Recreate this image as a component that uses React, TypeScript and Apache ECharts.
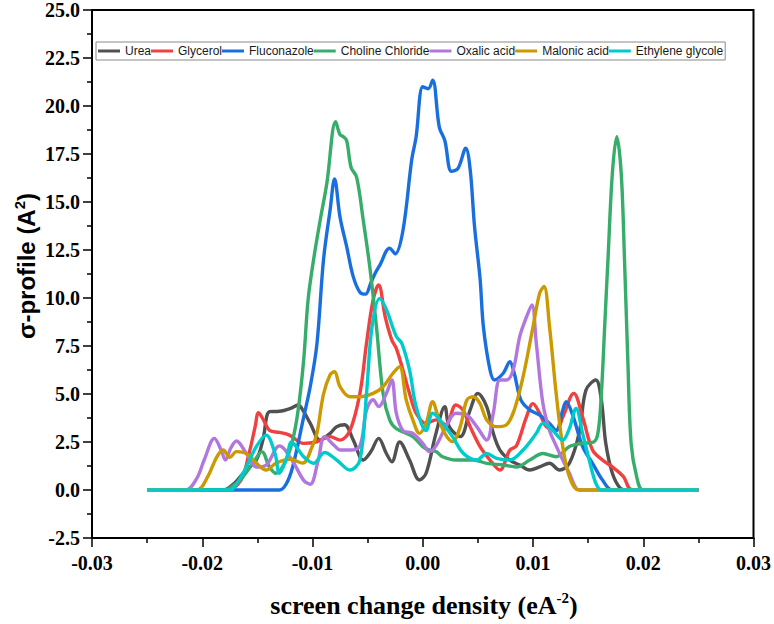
import React, { useEffect, useRef } from "react";
import * as echarts from "echarts";

// ---- data (σ in e/Å², σ-profile in Å²) ----
const seriesNames = [
  "Urea",
  "Glycerol",
  "Fluconazole",
  "Choline Chloride",
  "Oxalic acid",
  "Malonic acid",
  "Ethylene glycole",
];
const seriesColors = ["#515151", "#F14040", "#1A6FDF", "#37AD6B", "#B177DE", "#CC9900", "#00CBCC"];

const xTicks = { min: -0.03, max: 0.03, interval: 0.01 };
const yTicks = { min: -2.5, max: 25, interval: 2.5 };

const urea: [number, number][] = [
  [-0.025, 0], [-0.0181, 0], [-0.017, 0.4], [-0.0163, 0.87], [-0.0151, 1.56], [-0.0145, 2.6],
  [-0.0139, 4.08], [-0.013, 4.1], [-0.012, 4.25], [-0.0113, 4.43], [-0.0108, 4.08], [-0.0102, 3.47],
  [-0.0093, 2.6], [-0.0084, 2.95], [-0.0078, 3.3], [-0.0071, 3.4], [-0.0063, 2.6], [-0.0054, 1.56],
  [-0.0047, 2.0], [-0.004, 2.69], [-0.0033, 1.9], [-0.0028, 1.47], [-0.0021, 2.5], [-0.0012, 1.56],
  [-0.0003, 0.52], [0.0003, 0.87], [0.0012, 2.95], [0.002, 4.34], [0.0024, 3.3], [0.0034, 2.78],
  [0.0043, 4.17], [0.005, 5.03], [0.0058, 4.34], [0.0064, 2.95], [0.007, 2.08], [0.0079, 1.56],
  [0.0088, 1.3], [0.0097, 1.04], [0.0106, 1.2], [0.0115, 1.39], [0.0124, 1.04], [0.0133, 1.39],
  [0.0142, 3.0], [0.0148, 5.2], [0.0157, 5.73], [0.0162, 4.69], [0.0166, 2.43], [0.0172, 0.87],
  [0.0179, 0.1], [0.0185, 0], [0.025, 0],
];

const glycerol: [number, number][] = [
  [-0.025, 0], [-0.0178, 0], [-0.0165, 0.5], [-0.0158, 1.8], [-0.0152, 3.3], [-0.0149, 4.03],
  [-0.0144, 3.6], [-0.0139, 3.1], [-0.013, 3.0], [-0.0121, 2.86], [-0.0108, 2.43], [-0.0097, 2.5],
  [-0.0084, 2.78], [-0.0075, 2.6], [-0.0066, 3.1], [-0.0057, 5.03], [-0.0051, 7.64], [-0.0045, 9.9],
  [-0.004, 10.68], [-0.0034, 9.0], [-0.0028, 7.8], [-0.0024, 7.38], [-0.0018, 6.25], [-0.0012, 5.03],
  [-0.0006, 4.0], [0.0003, 3.47], [0.0012, 3.65], [0.0021, 3.4], [0.003, 4.43], [0.0036, 4.2],
  [0.0043, 3.3], [0.0052, 2.26], [0.0061, 1.56], [0.007, 1.04], [0.0079, 2.08], [0.0085, 2.3],
  [0.0094, 3.8], [0.01, 4.5], [0.0106, 4.0], [0.0112, 3.3], [0.0121, 3.1], [0.0127, 3.8],
  [0.0137, 5.03], [0.0145, 3.8], [0.0154, 2.08], [0.0163, 1.56], [0.0172, 1.2], [0.0182, 0.7],
  [0.019, 0], [0.025, 0],
];

const fluconazole: [number, number][] = [
  [-0.025, 0], [-0.013, 0], [-0.0124, 0.3], [-0.0118, 1.2], [-0.0108, 3.8], [-0.0102, 5.4],
  [-0.0096, 7.6], [-0.009, 12.0], [-0.0084, 14.6], [-0.008, 16.2], [-0.0075, 14.2], [-0.0069, 12.67],
  [-0.0063, 11.1], [-0.0057, 10.3], [-0.0052, 10.2], [-0.0047, 10.8], [-0.0043, 11.3], [-0.0039, 11.7],
  [-0.003, 12.6], [-0.0025, 12.3], [-0.0018, 13.5], [-0.001, 17.2], [-0.0006, 18.4], [0.0, 21.0],
  [0.0005, 20.9], [0.0009, 21.35], [0.0015, 18.9], [0.002, 18.2], [0.0026, 16.6], [0.0032, 16.75],
  [0.0039, 17.8], [0.0043, 16.7], [0.0047, 13.7], [0.0052, 11.0], [0.0055, 8.5], [0.0061, 6.25],
  [0.0065, 5.73], [0.0073, 6.08], [0.0079, 6.68], [0.0083, 6.08], [0.0089, 4.69], [0.0097, 4.17],
  [0.0106, 3.9], [0.0115, 3.47], [0.0121, 3.1], [0.0127, 4.17], [0.013, 4.6], [0.0136, 3.9],
  [0.0145, 2.26], [0.0154, 1.39], [0.0163, 0.52], [0.0172, 0], [0.025, 0],
];

const cholineChloride: [number, number][] = [
  [-0.025, 0], [-0.018, 0], [-0.017, 0.3], [-0.0163, 0.7], [-0.0154, 1.39], [-0.0146, 2.0],
  [-0.0139, 1.2], [-0.0133, 0.87], [-0.0124, 1.56], [-0.0118, 2.6], [-0.0113, 4.17], [-0.0108, 6.77],
  [-0.0104, 9.9], [-0.0099, 12.0], [-0.0093, 14.06], [-0.0087, 15.97], [-0.0079, 19.18], [-0.0075, 18.5],
  [-0.0072, 18.4], [-0.0069, 18.2], [-0.0065, 16.8], [-0.006, 16.3], [-0.0054, 14.06], [-0.0048, 11.6],
  [-0.0042, 8.5], [-0.0036, 5.03], [-0.003, 3.65], [-0.0024, 3.2], [-0.0009, 2.78], [0.0, 2.26],
  [0.0006, 2.08], [0.0012, 2.0], [0.0018, 1.73], [0.003, 1.56], [0.0046, 1.56], [0.0058, 1.39],
  [0.0073, 1.3], [0.0085, 1.2], [0.0097, 1.56], [0.0109, 1.9], [0.0121, 1.73], [0.0133, 2.26],
  [0.0145, 2.43], [0.0155, 2.5], [0.0159, 3.0], [0.0162, 5.0], [0.0165, 8.5], [0.0168, 12.0],
  [0.0172, 16.5], [0.0176, 18.4], [0.018, 16.5], [0.0183, 12.0], [0.0186, 6.77], [0.0189, 2.43],
  [0.0194, 0.7], [0.02, 0], [0.025, 0],
];

const oxalicAcid: [number, number][] = [
  [-0.025, 0], [-0.0215, 0], [-0.0205, 0.6], [-0.0198, 1.6], [-0.0189, 2.69], [-0.0183, 2.1],
  [-0.0179, 1.56], [-0.0174, 2.2], [-0.0169, 2.55], [-0.016, 1.9], [-0.0151, 1.2], [-0.0142, 1.3],
  [-0.013, 2.3], [-0.0118, 1.5], [-0.0108, 0.5], [-0.0102, 0.3], [-0.0095, 1.5], [-0.0089, 2.78],
  [-0.008, 2.3], [-0.0075, 2.08], [-0.0066, 2.08], [-0.0057, 2.3], [-0.0051, 4.17], [-0.0045, 4.7],
  [-0.004, 4.34], [-0.0033, 5.03], [-0.0028, 5.73], [-0.0024, 4.0], [-0.0018, 3.1], [-0.0009, 2.95],
  [0.0, 2.43], [0.0006, 2.0], [0.0012, 2.3], [0.0021, 3.3], [0.003, 4.0], [0.004, 3.9],
  [0.0049, 3.3], [0.0058, 2.6], [0.0064, 4.0], [0.007, 5.73], [0.0076, 5.73], [0.0082, 6.25],
  [0.0088, 8.0], [0.0094, 9.0], [0.0099, 9.64], [0.0103, 7.64], [0.0109, 4.5], [0.0115, 3.1],
  [0.0121, 2.3], [0.0127, 1.56], [0.0133, 0.87], [0.0139, 0.1], [0.0143, 0], [0.025, 0],
];

const malonicAcid: [number, number][] = [
  [-0.025, 0], [-0.0205, 0], [-0.0195, 0.7], [-0.0187, 1.7], [-0.0181, 2.08], [-0.0175, 1.7],
  [-0.0169, 2.0], [-0.016, 1.9], [-0.0151, 1.4], [-0.0142, 1.04], [-0.0133, 1.4], [-0.012, 1.6],
  [-0.0109, 1.4], [-0.01, 2.3], [-0.0096, 2.95], [-0.009, 5.0], [-0.0084, 6.0], [-0.008, 6.16],
  [-0.0075, 5.38], [-0.0066, 4.86], [-0.0057, 4.86], [-0.0045, 5.03], [-0.0036, 5.38], [-0.0027, 6.08],
  [-0.0021, 6.42], [-0.0015, 4.69], [-0.0009, 3.65], [-0.0003, 2.95], [0.0003, 3.47], [0.0009, 4.6],
  [0.0014, 3.8], [0.002, 2.95], [0.0027, 2.52], [0.0034, 3.3], [0.004, 4.69], [0.0046, 4.86],
  [0.0052, 4.5], [0.0058, 3.65], [0.0067, 3.3], [0.0076, 3.4], [0.0083, 4.17], [0.0091, 5.9],
  [0.01, 8.5], [0.0106, 10.24], [0.011, 10.6], [0.0115, 8.5], [0.0121, 5.03], [0.0127, 2.26],
  [0.0133, 0.7], [0.0142, 0], [0.025, 0],
];

const ethyleneGlycol: [number, number][] = [
  [-0.025, 0], [-0.0175, 0], [-0.0168, 0.4], [-0.016, 1.2], [-0.0151, 2.26], [-0.0142, 2.86],
  [-0.0134, 1.9], [-0.013, 0.87], [-0.0124, 1.56], [-0.0119, 2.5], [-0.0114, 2.2], [-0.0108, 1.73],
  [-0.0099, 1.39], [-0.0089, 1.95], [-0.0078, 1.56], [-0.0066, 1.04], [-0.0057, 1.56], [-0.0051, 5.03],
  [-0.0046, 8.5], [-0.0039, 9.98], [-0.0033, 9.4], [-0.0024, 8.0], [-0.0019, 7.64], [-0.0012, 6.25],
  [-0.0006, 4.34], [0.0003, 3.1], [0.0009, 4.0], [0.0018, 3.47], [0.0027, 2.78], [0.0037, 1.9],
  [0.0049, 1.56], [0.0058, 1.9], [0.0067, 1.65], [0.0079, 1.56], [0.0091, 2.08], [0.0103, 2.95],
  [0.0109, 3.47], [0.0118, 3.1], [0.0127, 2.6], [0.0133, 3.2], [0.0139, 4.25], [0.0145, 2.95],
  [0.0151, 1.56], [0.0157, 0.35], [0.0162, 0], [0.025, 0],
];

const seriesData = [urea, glycerol, fluconazole, cholineChloride, oxalicAcid, malonicAcid, ethyleneGlycol];

const SERIF = "'Liberation Serif', 'Times New Roman', serif";
const SANS = "'Liberation Sans', Arial, sans-serif";

export default function App() {
  const ref = useRef<HTMLDivElement>(null);

  useEffect(() => {
    if (!ref.current) return;
    const chart = echarts.init(ref.current, undefined, { renderer: "svg" });

    const axisLabelStyle = {
      fontFamily: SERIF,
      fontWeight: "bold" as const,
      fontSize: 20,
      color: "#000",
    };

    chart.setOption({
      animation: false,
      backgroundColor: "#fff",
      grid: {
        left: 92,
        right: 20,
        top: 10,
        bottom: 86,
        show: true,
        borderColor: "#000",
        borderWidth: 2,
        backgroundColor: "transparent",
      },
      legend: {
        data: seriesNames,
        left: 96,
        top: 42,
        orient: "horizontal",
        icon: "rect",
        itemWidth: 22,
        itemHeight: 3,
        itemGap: 0,
        padding: [3, 2, 3, 2],
        borderColor: "#8a8a8a",
        borderWidth: 1,
        textStyle: { fontFamily: SANS, fontSize: 12, color: "#1a1a1a" },
      },
      xAxis: {
        type: "value",
        min: xTicks.min,
        max: xTicks.max,
        interval: xTicks.interval,
        axisLine: { show: true, onZero: false, lineStyle: { color: "#000", width: 2 } },
        axisTick: { show: true, length: 9, lineStyle: { color: "#000", width: 1.5 } },
        minorTick: { show: true, splitNumber: 2, length: 5, lineStyle: { color: "#000", width: 1.5 } },
        splitLine: { show: false },
        axisLabel: {
          ...axisLabelStyle,
          margin: 15,
          formatter: (v: number) => (Math.abs(v) < 1e-9 ? "0.00" : v.toFixed(2)),
        },
      },
      yAxis: {
        type: "value",
        min: yTicks.min,
        max: yTicks.max,
        interval: yTicks.interval,
        axisLine: { show: true, onZero: false, lineStyle: { color: "#000", width: 2 } },
        axisTick: { show: true, length: 9, lineStyle: { color: "#000", width: 1.5 } },
        minorTick: { show: true, splitNumber: 2, length: 5, lineStyle: { color: "#000", width: 1.5 } },
        splitLine: { show: false },
        axisLabel: {
          ...axisLabelStyle,
          margin: 12,
          formatter: (v: number) => (Math.abs(v) < 1e-9 ? "0.0" : v.toFixed(1)),
        },
      },
      graphic: [
        {
          type: "text",
          x: 424,
          y: 605,
          style: {
            text: "screen change density (eA{sup|-2})",
            fontFamily: SERIF,
            fontWeight: "bold",
            fontSize: 26,
            fill: "#000",
            align: "center",
            verticalAlign: "middle",
            rich: {
              sup: {
                fontFamily: SERIF,
                fontWeight: "bold",
                fontSize: 15,
                fill: "#000",
                padding: [0, 0, 14, 0],
              },
            },
          },
        },
        {
          type: "text",
          x: 26,
          y: 266,
          rotation: Math.PI / 2,
          style: {
            text: "σ-profile (A{sup|2})",
            fontFamily: SANS,
            fontWeight: "bold",
            fontSize: 24,
            fill: "#000",
            align: "center",
            verticalAlign: "middle",
            rich: {
              sup: {
                fontFamily: SANS,
                fontWeight: "bold",
                fontSize: 15,
                fill: "#000",
                padding: [0, 0, 14, 0],
              },
            },
          },
        },
      ],
      series: seriesNames.map((name, i) => ({
        name,
        type: "line",
        data: seriesData[i],
        smooth: 0.35,
        showSymbol: false,
        symbol: "none",
        color: seriesColors[i],
        lineStyle: { color: seriesColors[i], width: 3.4 },
        emphasis: { disabled: true },
      })),
    });

    return () => chart.dispose();
  }, []);

  return (
    <div
      ref={ref}
      style={{ position: "fixed", left: 0, top: 0, width: 774, height: 624, background: "#fff" }}
    />
  );
}
